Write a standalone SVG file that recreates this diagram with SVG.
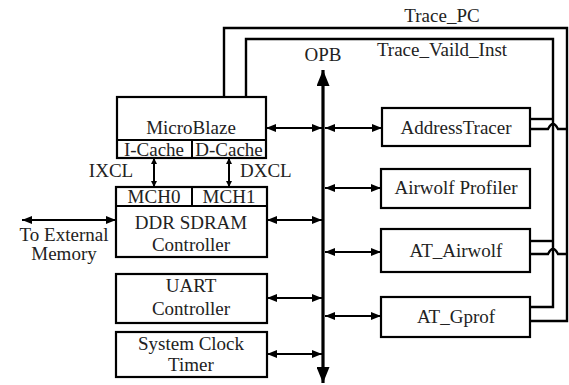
<svg xmlns="http://www.w3.org/2000/svg" width="569" height="385" viewBox="0 0 569 385">
<defs>
<marker id="ah" viewBox="0 0 10 8" refX="10" refY="4" markerWidth="10" markerHeight="8" markerUnits="userSpaceOnUse" orient="auto-start-reverse">
<path d="M0,0 L10,4 L0,8 Z" fill="#000"/>
</marker>
<marker id="sh" viewBox="0 0 6 6" refX="6" refY="3" markerWidth="6" markerHeight="6" markerUnits="userSpaceOnUse" orient="auto-start-reverse">
<path d="M0,0 L6,3 L0,6 Z" fill="#000"/>
</marker>
<marker id="bh" viewBox="0 0 16 13" refX="16" refY="6.5" markerWidth="16" markerHeight="13" markerUnits="userSpaceOnUse" orient="auto-start-reverse">
<path d="M0,0 L16,6.5 L0,13 Z" fill="#000"/>
</marker>
</defs>
<style>
text{font-family:"Liberation Serif","Times New Roman",serif;font-size:19px;fill:#222;text-anchor:middle}
.box{fill:#fff;stroke:#000;stroke-width:2.2}
.ar{fill:none;stroke:#000;stroke-width:2;marker-start:url(#ah);marker-end:url(#ah)}
.sa{fill:none;stroke:#000;stroke-width:2;marker-start:url(#sh);marker-end:url(#sh)}
.tr{fill:none;stroke:#000;stroke-width:2.4}
.bus{fill:none;stroke:#000;stroke-width:3.2;marker-start:url(#bh);marker-end:url(#bh)}
</style>
<rect width="569" height="385" fill="#fff"/>
<g id="connectors">
<path class="bus" d="M323,70 V383"/>
<path class="ar" d="M266,128 H322"/>
<path class="ar" d="M325,128 H382"/>
<path class="ar" d="M325,188 H381"/>
<path class="ar" d="M267,220 H322"/>
<path class="ar" d="M325,252 H381"/>
<path class="ar" d="M267,298 H322"/>
<path class="ar" d="M325,316 H381"/>
<path class="ar" d="M267,354 H322"/>
<path class="ar" d="M22,220 H116"/>
<path class="sa" d="M154,158 V187"/>
<path class="sa" d="M229,158 V187"/>
<path class="tr" d="M224,97 V28 H567 V321 H530"/>
<path class="tr" d="M246,97 V39 H553 V307 H530"/>
<path class="tr" d="M530,119 H553"/>
<path class="tr" d="M530,241 H553"/>
<path class="tr" d="M530,129 H548 Q553,119 558,129 H567"/>
<path class="tr" d="M530,254 H548 Q553,244 558,254 H567"/>
<text x="442" y="22">Trace_PC</text>
<text x="442" y="56">Trace_Vaild_Inst</text>
<text x="323" y="61">OPB</text>
<text x="111" y="177">IXCL</text>
<text x="240" y="177" style="text-anchor:start">DXCL</text>
<text x="64" y="241">To External</text>
<text x="64" y="260">Memory</text>
</g>
<g id="microblaze">
<rect class="box" x="117" y="97" width="149" height="61"/>
<line x1="117" y1="140" x2="266" y2="140" stroke="#000" stroke-width="2"/>
<line x1="192" y1="140" x2="192" y2="158" stroke="#000" stroke-width="2"/>
<text x="191" y="134">MicroBlaze</text>
<text x="154" y="156">I-Cache</text>
<text x="229" y="156">D-Cache</text>
</g>
<g id="ddr">
<rect class="box" x="116" y="187" width="151" height="70"/>
<line x1="116" y1="206" x2="267" y2="206" stroke="#000" stroke-width="2"/>
<line x1="192" y1="187" x2="192" y2="206" stroke="#000" stroke-width="2"/>
<text x="154" y="203">MCH0</text>
<text x="229" y="203">MCH1</text>
<text x="191" y="229">DDR SDRAM</text>
<text x="191" y="251">Controller</text>
</g>
<g id="uart">
<rect class="box" x="116" y="274" width="151" height="49"/>
<text x="191" y="292">UART</text>
<text x="191" y="315">Controller</text>
</g>
<g id="timer">
<rect class="box" x="116" y="332" width="151" height="45"/>
<text x="191" y="350">System Clock</text>
<text x="191" y="371">Timer</text>
</g>
<g id="addresstracer">
<rect class="box" x="382" y="108" width="148" height="38"/>
<text x="456" y="134">AddressTracer</text>
</g>
<g id="airwolfprofiler">
<rect class="box" x="381" y="169" width="149" height="39"/>
<text x="456" y="194">Airwolf Profiler</text>
</g>
<g id="atairwolf">
<rect class="box" x="381" y="229" width="149" height="43"/>
<text x="456" y="257">AT_Airwolf</text>
</g>
<g id="atgprof">
<rect class="box" x="381" y="297" width="149" height="40"/>
<text x="456" y="323">AT_Gprof</text>
</g>
</svg>
